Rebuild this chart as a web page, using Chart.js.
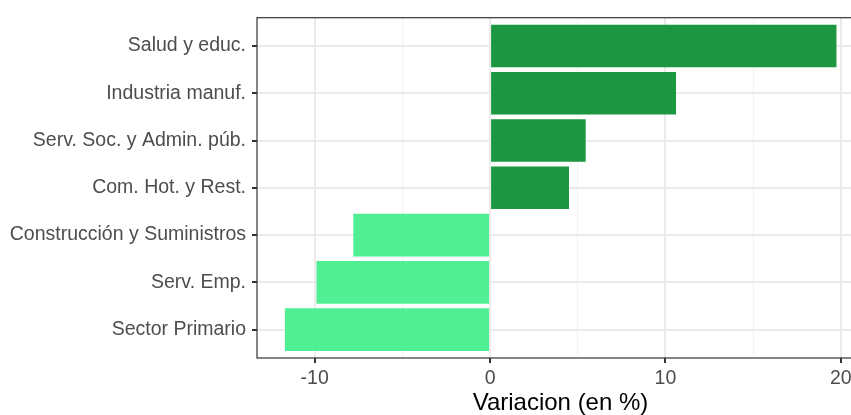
<!DOCTYPE html>
<html>
<head>
<meta charset="utf-8">
<script src="https://cdn.jsdelivr.net/npm/chart.js@4"></script>
<style>
    html, body { margin: 0; padding: 0; background: #fff; overflow: hidden; }
    #wrap { width: 866px; height: 415px; }
</style>
</head>
<body>
<div id="wrap"><canvas id="chart"></canvas></div>
<script>
// Data
const sectors = [
    'Salud y educ.',
    'Industria manuf.',
    'Serv. Soc. y Admin. púb.',
    'Com. Hot. y Rest.',
    'Construcción y Suministros',
    'Serv. Emp.',
    'Sector Primario'
];
const variation = [19.75, 10.6, 5.45, 4.5, -7.8, -9.9, -11.7];
const xTicks = [-10, -5, 0, 5, 10, 15, 20];
const xLabels = ['-10', '', '0', '', '10', '', '20'];

const POS = '#1c9641';
const NEG = '#50ef94';
const GRID = '#ebebeb';
const DARK = '#333333';
const TEXT = '#4d4d4d';
const FONT = "'Liberation Sans', Arial, sans-serif";

// full panel border (ggplot theme_bw)
const panelBorder = {
    id: 'panelBorder',
    afterDraw(chart) {
        const { ctx, chartArea: a } = chart;
        ctx.save();
        ctx.strokeStyle = DARK;
        ctx.lineWidth = 1.2;
        ctx.strokeRect(a.left, a.top, a.right - a.left, a.bottom - a.top);
        ctx.restore();
    }
};

const ctx = document.getElementById('chart').getContext('2d');
new Chart(ctx, {
    type: 'bar',
    data: {
        datasets: [{
            data: variation.map((v, i) => ({ x: v, y: i })),
            backgroundColor: variation.map(v => v >= 0 ? POS : NEG),
            borderWidth: 0,
            barPercentage: 0.9,
            categoryPercentage: 1
        }]
    },
    options: {
        indexAxis: 'y',
        responsive: true,
        maintainAspectRatio: false,
        animation: false,
        layout: { padding: { top: 14, right: 2, left: 0, bottom: 0 } },
        plugins: {
            legend: { display: false },
            tooltip: { enabled: false }
        },
        scales: {
            x: {
                type: 'linear',
                min: -13.29,
                max: 21.32,
                afterBuildTicks: s => { s.ticks = xTicks.map(v => ({ value: v })); },
                afterFit: s => { s.height = 57; },
                border: { display: false },
                grid: {
                    color: c => (c.tick && c.tick.value % 10 === 0) ? GRID : '#f2f2f2',
                    lineWidth: c => (c.tick && c.tick.value % 10 === 0) ? 2 : 1.2,
                    tickColor: c => (c.tick && c.tick.value % 10 === 0) ? DARK : 'rgba(0,0,0,0)',
                    tickWidth: 2,
                    tickLength: 5
                },
                ticks: {
                    color: TEXT,
                    font: { family: FONT, size: 19.5 },
                    padding: 4,
                    maxRotation: 0,
                    autoSkip: false,
                    callback: (v, i) => xLabels[i]
                },
                title: {
                    display: true,
                    text: 'Variacion (en %)',
                    color: '#000',
                    font: { family: FONT, size: 24, lineHeight: 1 },
                    padding: { top: 0, bottom: 0 }
                }
            },
            y: {
                type: 'linear',
                reverse: true,
                offset: false,
                min: -0.6,
                max: 6.6,
                afterBuildTicks: s => { s.ticks = sectors.map((c, i) => ({ value: i })); },
                afterFit: s => { s.width = 257; },
                border: { display: false },
                grid: {
                    offset: false,
                    color: GRID,
                    lineWidth: 2,
                    tickColor: DARK,
                    tickWidth: 2,
                    tickLength: 5
                },
                ticks: {
                    color: TEXT,
                    font: { family: FONT, size: 19.5 },
                    padding: 6,
                    autoSkip: false,
                    callback: (v, i) => sectors[i]
                }
            }
        }
    },
    plugins: [panelBorder]
});
</script>
</body>
</html>
